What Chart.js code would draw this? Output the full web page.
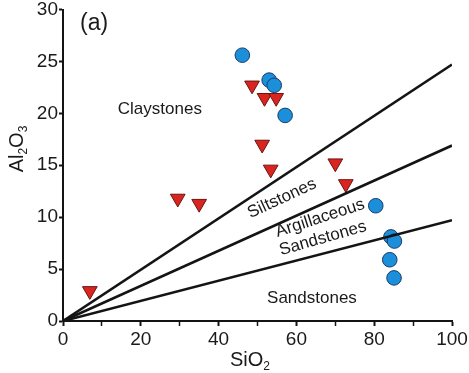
<!DOCTYPE html>
<html>
<head>
<meta charset="utf-8">
<script src="https://cdn.jsdelivr.net/npm/chart.js@4/dist/chart.umd.min.js"></script>
<style>
  html, body { margin: 0; padding: 0; background: #fff; }
  #wrap { width: 469px; height: 373px; }
</style>
</head>
<body>
<div id="wrap"><canvas id="chart" width="469" height="373"></canvas></div>
<script>
// blue circles
const circleSiO2 = [46.1, 53.0, 54.3, 57.1, 80.4, 84.3, 85.2, 84.0, 85.1];
const circleAl2O3 = [25.6, 23.2, 22.7, 19.8, 11.1, 8.1, 7.7, 5.9, 4.15];

// red triangles
const triSiO2 = [48.6, 51.8, 54.8, 51.2, 53.4, 70.0, 72.7, 29.5, 35.0, 6.9];
const triAl2O3 = [22.7, 21.5, 21.5, 17.0, 14.6, 15.2, 13.2, 11.8, 11.3, 2.9];

// classification boundaries: Al2O3 at SiO2 = 100 (lines from the origin)
const boundaryEnds = [24.7, 16.9, 9.7];

const xTicks = [0, 20, 40, 60, 80, 100];
const yTicks = [0, 5, 10, 15, 20, 25, 30];

const FONT = "'Liberation Sans', Arial, sans-serif";

const toPoints = (xs, ys) => xs.map((x, i) => ({ x: x, y: ys[i] }));

const lineSets = boundaryEnds.map(v => ({
    type: 'scatter',
    data: [{ x: 0, y: 0 }, { x: 100, y: v }],
    showLine: true,
    borderColor: '#141414',
    borderWidth: 2.6,
    pointRadius: 0,
    fill: false
}));

function drawSub(ctx, parts, size) {
    // measure
    let w = 0;
    parts.forEach(p => {
        ctx.font = (p[1] ? Math.round(size * 0.6) : size) + 'px ' + FONT;
        w += ctx.measureText(p[0]).width;
    });
    let x = -w / 2;
    parts.forEach(p => {
        ctx.font = (p[1] ? Math.round(size * 0.6) : size) + 'px ' + FONT;
        ctx.fillText(p[0], x, p[1] ? size * 0.35 : 0);
        x += ctx.measureText(p[0]).width;
    });
}

const labelPlugin = {
    id: 'labels',
    afterDraw(chart) {
        const ctx = chart.ctx;
        const xs = chart.scales.x, ys = chart.scales.y;
        ctx.save();
        ctx.fillStyle = '#1a1a1a';
        ctx.textBaseline = 'middle';

        ctx.textAlign = 'left';
        ctx.font = '23px ' + FONT;
        ctx.fillText('(a)', xs.getPixelForValue(4.4), ys.getPixelForValue(28.6));

        const region = (txt, x, y, deg) => {
            ctx.save();
            ctx.translate(xs.getPixelForValue(x), ys.getPixelForValue(y));
            ctx.rotate(deg * Math.PI / 180);
            ctx.textAlign = 'center';
            ctx.font = '17px ' + FONT;
            ctx.fillText(txt, 0, 0);
            ctx.restore();
        };
        region('Claystones', 24.9, 20.4, 0);
        region('Siltstones', 56.3, 11.8, -25);
        region('Argillaceous', 66.1, 9.9, -18);
        region('Sandstones', 66.8, 7.95, -16);
        region('Sandstones', 64.0, 2.2, 0);

        // axis titles with subscripts
        ctx.textAlign = 'left';
        ctx.save();
        ctx.translate(250, 360);
        drawSub(ctx, [['SiO', false], ['2', true]], 20);
        ctx.restore();

        ctx.save();
        ctx.translate(17, 149);
        ctx.rotate(-Math.PI / 2);
        drawSub(ctx, [['Al', false], ['2', true], ['O', false], ['3', true]], 20);
        ctx.restore();

        ctx.restore();
    }
};

new Chart(document.getElementById('chart').getContext('2d'), {
    type: 'scatter',
    data: {
        datasets: [
            ...lineSets,
            {
                data: toPoints(triSiO2, triAl2O3),
                pointStyle: 'triangle',
                rotation: 180,
                pointRadius: 8.5,
                backgroundColor: '#da2420',
                borderColor: '#6a1512',
                borderWidth: 1
            },
            {
                data: toPoints(circleSiO2, circleAl2O3),
                pointStyle: 'circle',
                pointRadius: 7.3,
                backgroundColor: '#1c8fdb',
                borderColor: '#1b3b6a',
                borderWidth: 1
            }
        ]
    },
    options: {
        responsive: false,
        animation: false,
        layout: { padding: { top: 8, right: 17, left: 0, bottom: 0 } },
        plugins: {
            legend: { display: false },
            tooltip: { enabled: false }
        },
        scales: {
            x: {
                type: 'linear',
                min: 0,
                max: 100,
                afterBuildTicks: s => {
                    s.ticks = [0, 10, 20, 30, 40, 50, 60, 70, 80, 90, 100].map(v => ({ value: v }));
                },
                afterFit: s => {
                    s.height = 52;
                    s.paddingLeft = 0;
                    s.paddingRight = 0;
                },
                ticks: {
                    autoSkip: false,
                    maxRotation: 0,
                    padding: 2,
                    color: '#1a1a1a',
                    font: { family: FONT, size: 19 },
                    callback: v => xTicks.includes(v) ? String(v) : ''
                },
                grid: {
                    drawOnChartArea: false,
                    drawTicks: true,
                    tickLength: 5,
                    tickColor: '#141414',
                    tickWidth: ctx => (ctx.tick && xTicks.includes(ctx.tick.value)) ? 2 : 1.5
                },
                border: { display: true, color: '#141414', width: 2 }
            },
            y: {
                type: 'linear',
                min: 0,
                max: 30,
                afterBuildTicks: s => {
                    s.ticks = yTicks.map(v => ({ value: v }));
                },
                afterFit: s => {
                    s.width = 63;
                    s.paddingTop = 0;
                    s.paddingBottom = 0;
                },
                ticks: {
                    autoSkip: false,
                    padding: 1,
                    color: '#1a1a1a',
                    font: { family: FONT, size: 19 }
                },
                grid: {
                    drawOnChartArea: false,
                    drawTicks: true,
                    tickLength: 4,
                    tickColor: '#141414',
                    tickWidth: 2
                },
                border: { display: true, color: '#141414', width: 2 }
            }
        }
    },
    plugins: [labelPlugin]
});
</script>
</body>
</html>
